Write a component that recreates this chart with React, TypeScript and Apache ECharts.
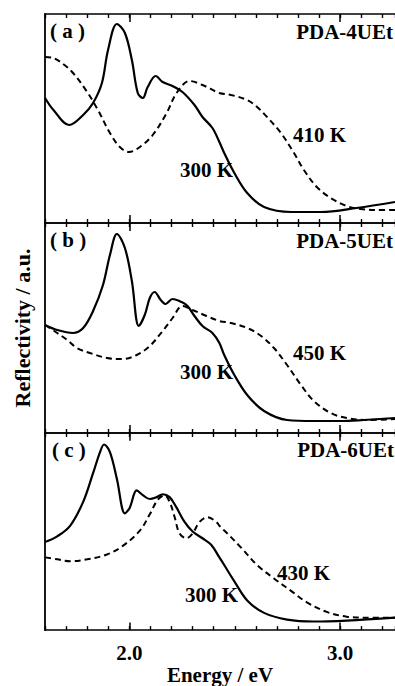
import React, { useEffect, useRef } from "react";
import * as echarts from "echarts";

const ENERGY_MIN = 1.6;
const ENERGY_MAX = 3.26;
const MINOR_STEP = 0.1;
const MAJOR_TICKS = [2.0, 3.0];

// Panel (a) PDA-4UEt  [energy eV, reflectivity a.u.]
const A_300K: [number, number][] = [
  [1.6, 125], [1.64, 113], [1.715, 98], [1.781, 108], [1.828, 120], [1.87, 140], [1.899, 173],
  [1.941, 199], [1.979, 190], [2.012, 163], [2.04, 130], [2.064, 125], [2.087, 136], [2.125, 147],
  [2.158, 141], [2.205, 137], [2.252, 131], [2.309, 118], [2.347, 106], [2.394, 95], [2.427, 81],
  [2.45, 70], [2.498, 50], [2.559, 30], [2.639, 16], [2.767, 11], [2.908, 11], [3.078, 15], [3.26, 21],
];
const A_410K: [number, number][] = [
  [1.6, 166], [1.64, 165], [1.686, 159], [1.733, 150], [1.8, 131], [1.851, 113], [1.908, 90],
  [1.955, 76], [1.998, 71], [2.05, 76], [2.111, 88], [2.177, 110], [2.224, 130], [2.285, 142],
  [2.347, 138], [2.427, 130], [2.483, 128], [2.559, 123], [2.606, 116], [2.653, 106], [2.719, 90],
  [2.781, 70], [2.828, 53], [2.889, 36], [2.955, 25], [3.031, 17], [3.097, 14], [3.172, 13], [3.26, 13],
];

// Panel (b) PDA-5UEt
const B_300K: [number, number][] = [
  [1.6, 108], [1.658, 103], [1.733, 100], [1.781, 105], [1.828, 122], [1.875, 148], [1.908, 178],
  [1.941, 199], [1.979, 185], [2.012, 152], [2.045, 107], [2.073, 118], [2.097, 135], [2.12, 141],
  [2.149, 133], [2.172, 129], [2.205, 134], [2.248, 131], [2.276, 127], [2.309, 117], [2.347, 107],
  [2.394, 100], [2.427, 90], [2.45, 78], [2.498, 58], [2.559, 38], [2.639, 22], [2.748, 13],
  [2.875, 12], [3.002, 12], [3.111, 13], [3.26, 15],
];
const B_450K: [number, number][] = [
  [1.6, 108], [1.658, 100], [1.705, 93], [1.752, 85], [1.813, 80], [1.894, 75], [1.969, 74],
  [2.035, 78], [2.097, 87], [2.158, 102], [2.205, 115], [2.252, 127], [2.3, 123], [2.366, 117],
  [2.427, 112], [2.483, 110], [2.559, 105], [2.625, 97], [2.686, 85], [2.748, 68], [2.814, 48],
  [2.875, 32], [2.955, 20], [3.031, 15], [3.125, 13], [3.26, 14],
];

// Panel (c) PDA-6UEt
const C_300K: [number, number][] = [
  [1.6, 92], [1.658, 98], [1.719, 109], [1.781, 134], [1.828, 164], [1.861, 186], [1.88, 194],
  [1.908, 186], [1.941, 158], [1.979, 122], [2.002, 128], [2.035, 146], [2.064, 141], [2.097, 137],
  [2.13, 139], [2.158, 142], [2.191, 139], [2.224, 128], [2.262, 113], [2.3, 103], [2.347, 96],
  [2.389, 89], [2.427, 76], [2.45, 68], [2.498, 51], [2.559, 31], [2.639, 18], [2.748, 11],
  [2.875, 9], [3.031, 10], [3.26, 13],
];
const C_430K: [number, number][] = [
  [1.6, 76], [1.658, 74], [1.719, 72], [1.8, 74], [1.894, 79], [1.969, 88], [2.05, 104],
  [2.097, 121], [2.134, 136], [2.167, 141], [2.191, 134], [2.215, 118], [2.238, 101], [2.271, 96],
  [2.3, 101], [2.333, 113], [2.37, 118], [2.413, 113], [2.427, 109], [2.465, 101], [2.531, 86],
  [2.606, 68], [2.686, 54], [2.767, 41], [2.842, 29], [2.936, 19], [3.031, 14], [3.125, 13], [3.26, 13],
];

const PANEL_TAGS = ["( a )", "( b )", "( c )"];
const PANEL_NAMES = ["PDA-4UEt", "PDA-5UEt", "PDA-6UEt"];
const HOT_LABELS = ["410 K", "450 K", "430 K"];
const COLD_LABEL = "300 K";
const X_NAME = "Energy / eV";
const Y_NAME = "Reflectivity / a.u.";

const FONT = "Liberation Serif";

export default function App() {
  const ref = useRef<HTMLDivElement>(null);

  useEffect(() => {
    if (!ref.current) return;
    const chart = echarts.init(ref.current, undefined, { renderer: "svg" });

    const grids = [
      { top: 14, height: 209 },
      { top: 223, height: 210 },
      { top: 433, height: 206 },
    ];
    const solids = [A_300K, B_300K, C_300K];
    const dashes = [A_410K, B_450K, C_430K];

    const xAxes: any[] = [];
    const yAxes: any[] = [];
    const series: any[] = [];
    const MAJOR_LEN = 8;

    grids.forEach((g, i) => {
      const isLast = i === 2;
      xAxes.push({
        gridIndex: i,
        type: "value",
        min: ENERGY_MIN,
        max: ENERGY_MAX,
        interval: MINOR_STEP,
        position: "bottom",
        splitLine: { show: false },
        axisLine: { show: true, onZero: false, lineStyle: { color: "#000", width: 1.6 } },
        axisTick: { show: true, inside: true, length: 4, lineStyle: { color: "#000", width: 1.4 } },
        axisLabel: isLast
          ? {
              show: true,
              customValues: MAJOR_TICKS,
              formatter: (v: number) => v.toFixed(1),
              color: "#000",
              fontFamily: FONT,
              fontWeight: "bold",
              fontSize: 21,
              margin: 12,
            }
          : { show: false },
        name: isLast ? X_NAME : undefined,
        nameLocation: "middle",
        nameGap: 31,
        nameTextStyle: { color: "#000", fontFamily: FONT, fontWeight: "bold", fontSize: 21 },
      });
      xAxes.push({
        gridIndex: i,
        type: "value",
        min: ENERGY_MIN,
        max: ENERGY_MAX,
        interval: MINOR_STEP,
        position: "top",
        splitLine: { show: false },
        axisLine: { show: true, onZero: false, lineStyle: { color: "#000", width: 1.6 } },
        axisTick: { show: true, inside: true, length: 4, lineStyle: { color: "#000", width: 1.4 } },
        axisLabel: { show: false },
      });
      yAxes.push({
        gridIndex: i,
        type: "value",
        min: 0,
        max: g.height,
        splitLine: { show: false },
        axisLine: { show: true, onZero: false, lineStyle: { color: "#000", width: 1.8 } },
        axisTick: { show: false },
        axisLabel: { show: false },
        name: i === 1 ? Y_NAME : undefined,
        nameLocation: "middle",
        nameRotate: 90,
        nameGap: 12,
        nameTextStyle: { color: "#000", fontFamily: FONT, fontWeight: "bold", fontSize: 22 },
      });
      const majorSegs: any[] = [];
      MAJOR_TICKS.forEach((t) => {
        majorSegs.push([{ coord: [t, 0] }, { coord: [t, MAJOR_LEN] }]);
        majorSegs.push([{ coord: [t, g.height - MAJOR_LEN] }, { coord: [t, g.height] }]);
      });
      series.push({
        type: "line",
        xAxisIndex: i * 2,
        yAxisIndex: i,
        data: solids[i],
        showSymbol: false,
        smooth: 0.35,
        lineStyle: { color: "#000", width: 2.2 },
        markLine: {
          symbol: ["none", "none"],
          label: { show: false },
          lineStyle: { color: "#000", width: 1.5, type: "solid" },
          data: majorSegs,
        },
      });
      series.push({
        type: "line",
        xAxisIndex: i * 2,
        yAxisIndex: i,
        data: dashes[i],
        showSymbol: false,
        smooth: 0.35,
        lineStyle: { color: "#000", width: 2, type: [6, 4] },
      });
    });

    const ts = { color: "#000", fontFamily: FONT, fontWeight: "bold", fontSize: 21 };
    const tl = (text: string, left: number, cy: number) => ({ text, left, top: cy - 10.5, padding: 0, textStyle: ts });
    const tr = (text: string, right: number, cy: number) => ({ text, right, top: cy - 10.5, padding: 0, textStyle: ts });

    const titles = [
      tl(PANEL_TAGS[0], 50, 31),
      tr(PANEL_NAMES[0], 2, 32),
      tl(HOT_LABELS[0], 293, 135),
      tl(COLD_LABEL, 180, 170),
      tl(PANEL_TAGS[1], 50, 240),
      tr(PANEL_NAMES[1], 2, 241),
      tl(HOT_LABELS[1], 293, 353),
      tl(COLD_LABEL, 180, 372),
      tl(PANEL_TAGS[2], 52, 450),
      tr(PANEL_NAMES[2], 1, 450),
      tl(HOT_LABELS[2], 277, 573),
      tl(COLD_LABEL, 185, 595),
    ];

    chart.setOption({
      animation: false,
      title: titles,
      grid: grids.map((g) => ({ left: 45, right: -2, top: g.top, height: g.height })),
      xAxis: xAxes,
      yAxis: yAxes,
      series,
    });

    return () => chart.dispose();
  }, []);

  return (
    <div
      ref={ref}
      style={{ position: "absolute", left: 0, top: 0, width: 395, height: 686, background: "#fff" }}
    />
  );
}
